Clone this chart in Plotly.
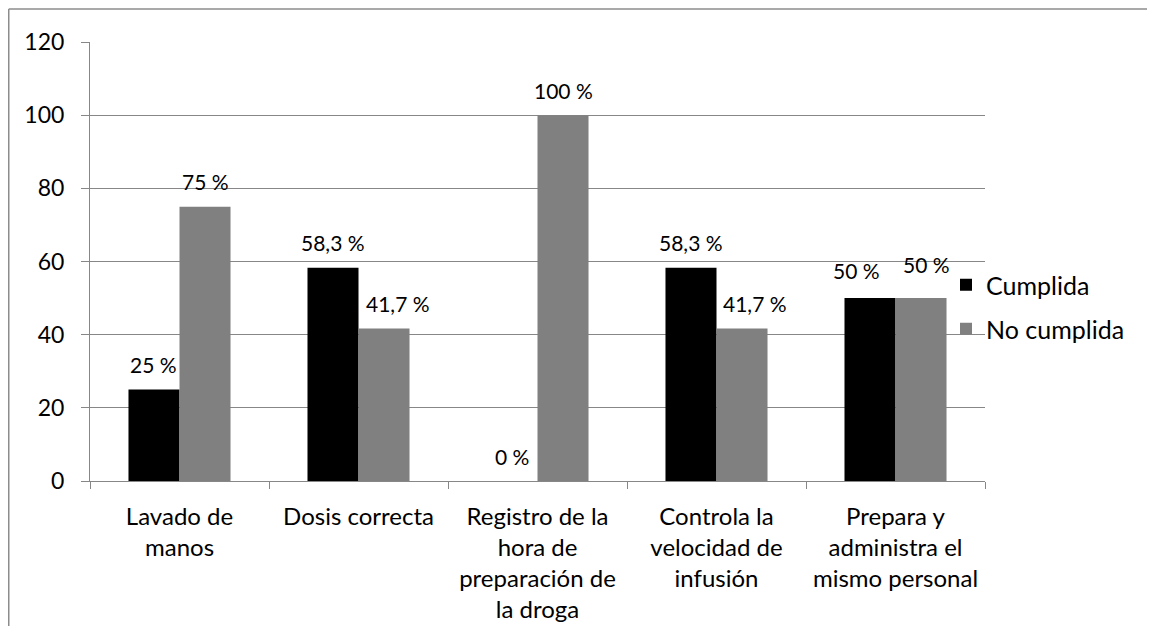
import plotly.graph_objects as go

categories = ["Lavado de<br>manos", "Dosis correcta",
              "Registro de la<br>hora de<br>preparación de<br>la droga",
              "Controla la<br>velocidad de<br>infusión",
              "Prepara y<br>administra el<br>mismo personal"]
cumplida = [25, 58.3, 0, 58.3, 50]
no_cumplida = [75, 41.7, 100, 41.7, 50]
cumplida_labels = ["25 %", "58,3 %", "0 %", "58,3 %", "50 %"]
no_cumplida_labels = ["75 %", "41,7 %", "100 %", "41,7 %", "50 %"]
y_ticks = [0, 20, 40, 60, 80, 100, 120]

# label nudges (style only, pixels)
cumplida_nudge_x = [0, 0, 0, 0, -13]
cumplida_nudge_y = [0, 0, 0, 0, 3]
no_cumplida_nudge_x = [0, 14, 0, 13, 5]
no_cumplida_nudge_y = [0, 0, 0, 0, 9]

FONT = "Lato"
GRID = "#878787"

fig = go.Figure()
fig.add_trace(go.Bar(name="Cumplida", x=categories, y=cumplida,
                     marker=dict(color="#000000", line=dict(width=0)),
                     legend="legend"))
fig.add_trace(go.Bar(name="No cumplida", x=categories, y=no_cumplida,
                     marker=dict(color="#808080", line=dict(width=0)),
                     legend="legend2"))

W, H = 1147, 618
L, R, T, B = 82, 170, 34, 145
pw, ph = W - L - R, H - T - B
bar_px = pw / len(categories) * (1 - 0.43) / 2

annotations = []
for vals, labs, sh, nx, ny in [
        (cumplida, cumplida_labels, -bar_px / 2, cumplida_nudge_x, cumplida_nudge_y),
        (no_cumplida, no_cumplida_labels, bar_px / 2, no_cumplida_nudge_x, no_cumplida_nudge_y)]:
    for c, v, t, dx, dy in zip(categories, vals, labs, nx, ny):
        annotations.append(dict(x=c, y=v, xref="x", yref="y", text=t,
                                showarrow=False, xshift=sh + dx, yshift=25 + dy,
                                yanchor="middle", xanchor="center",
                                font=dict(family=FONT, size=21, color="#000")))


def px_x(p):
    return (p - L) / pw


def px_y(p):
    return (H - B - p) / ph


shapes = [
    dict(type="line", xref="paper", yref="paper", x0=px_x(0.75), x1=px_x(W + 5),
         y0=px_y(1), y1=px_y(1), line=dict(color="#8c8c8c", width=1.5)),
    dict(type="line", xref="paper", yref="paper", x0=px_x(0.75), x1=px_x(0.75),
         y0=px_y(1), y1=px_y(H + 5), line=dict(color="#8c8c8c", width=1.5)),
]

fig.update_layout(
    width=W, height=H,
    margin=dict(l=L, r=R, t=T, b=B, pad=0, autoexpand=False),
    paper_bgcolor="white", plot_bgcolor="white",
    barmode="group", bargap=0.43, bargroupgap=0,
    font=dict(family=FONT, size=22, color="#000"),
    annotations=annotations,
    shapes=shapes,
    showlegend=True,
    legend=dict(x=px_x(938), y=px_y(277), xanchor="left", yanchor="middle",
                bgcolor="rgba(0,0,0,0)", font=dict(family=FONT, size=25),
                itemclick=False, visible=True),
    legend2=dict(x=px_x(938), y=px_y(321), xanchor="left", yanchor="middle",
                 bgcolor="rgba(0,0,0,0)", font=dict(family=FONT, size=25),
                 itemclick=False, visible=True),
    xaxis=dict(showline=True, linecolor=GRID, linewidth=1,
               ticks="outside", tickson="boundaries", ticklen=7,
               tickcolor=GRID, tickfont=dict(family=FONT, size=24),
               showgrid=False, zeroline=False, ticklabelstandoff=14,
               automargin=False),
    yaxis=dict(range=[0, 120], tickvals=y_ticks, showline=True,
               linecolor=GRID, linewidth=1, ticks="outside", ticklen=8,
               tickcolor=GRID, gridcolor=GRID, gridwidth=1,
               tickfont=dict(family=FONT, size=23), zeroline=False,
               ticklabelstandoff=12, automargin=False),
)

fig.write_html("out.html")
